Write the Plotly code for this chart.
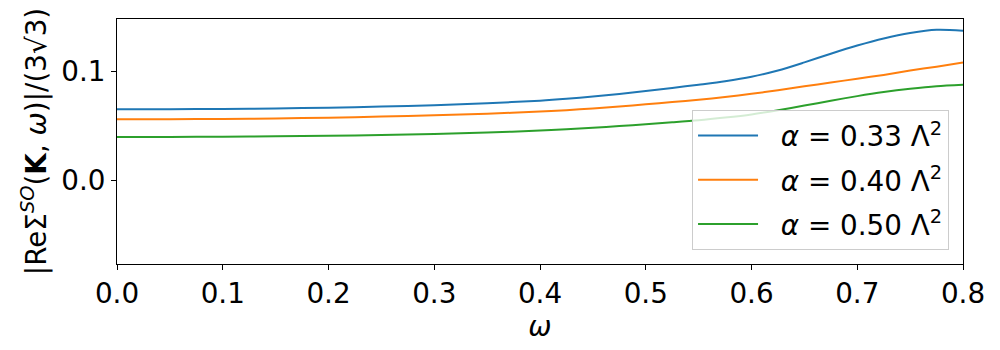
import plotly.graph_objects as go

omega = [0.0, 0.05, 0.1, 0.15, 0.2, 0.25, 0.3, 0.35, 0.4, 0.425, 0.45, 0.475, 0.5,
         0.525, 0.55, 0.575, 0.6, 0.625, 0.65, 0.675, 0.7, 0.725, 0.75, 0.775, 0.8]

alpha_033 = [0.0654, 0.0655, 0.0657, 0.0662, 0.0669, 0.0679, 0.0692, 0.0710, 0.0733,
             0.0750, 0.0771, 0.0795, 0.0822, 0.0850, 0.0880, 0.0912, 0.0953, 0.1010,
             0.1085, 0.1165, 0.1240, 0.1305, 0.1355, 0.1385, 0.1377]
alpha_040 = [0.0562, 0.0563, 0.0565, 0.0570, 0.0577, 0.0587, 0.0599, 0.0614, 0.0633,
             0.0646, 0.0662, 0.0680, 0.0700, 0.0720, 0.0742, 0.0767, 0.0796, 0.0829,
             0.0865, 0.0900, 0.0935, 0.0970, 0.1010, 0.1046, 0.1085]
alpha_050 = [0.0400, 0.0400, 0.0402, 0.0406, 0.0411, 0.0418, 0.0428, 0.0441, 0.0458,
             0.0470, 0.0484, 0.0500, 0.0517, 0.0534, 0.0553, 0.0578, 0.0607, 0.0645,
             0.0688, 0.0733, 0.0775, 0.0812, 0.0842, 0.0866, 0.0880]

series_names = ["\u00a0\u00a0<i>α</i> = 0.33 Λ<sup>2</sup>",
                "\u00a0\u00a0<i>α</i> = 0.40 Λ<sup>2</sup>",
                "\u00a0\u00a0<i>α</i> = 0.50 Λ<sup>2</sup>"]
series_values = [alpha_033, alpha_040, alpha_050]
colors = ["#1f77b4", "#ff7f0e", "#2ca02c"]

x_ticks = [0.0, 0.1, 0.2, 0.3, 0.4, 0.5, 0.6, 0.7, 0.8]
y_ticks = [0.0, 0.1]

FONT = "DejaVu Sans"
FS = 27.8

fig = go.Figure()
for i, (name, vals, c) in enumerate(zip(series_names, series_values, colors)):
    fig.add_trace(go.Scatter(
        x=omega, y=vals, mode="lines", name=name,
        line=dict(color=c, width=2, shape="spline", smoothing=0.8),
        legendgroup=f"g{i}",
    ))

# the page body has an 8px margin; size the figure so the plot lands where the reference has it
fig.update_layout(
    width=992, height=342,
    margin=dict(l=109, r=37, t=11, b=86),
    paper_bgcolor="white", plot_bgcolor="white",
    font=dict(family=FONT, size=FS, color="black"),
    showlegend=True,
    legend=dict(
        x=0.9835, y=0.057, xanchor="right", yanchor="bottom",
        bgcolor="rgba(255,255,255,0.8)", bordercolor="#cccccc", borderwidth=1,
        font=dict(family=FONT, size=FS, color="black"),
        itemwidth=60, tracegroupgap=5,
    ),
    xaxis=dict(
        range=[0.0, 0.8], tickvals=x_ticks, tickformat=".1f",
        showgrid=False, zeroline=False,
        showline=True, mirror=True, linecolor="black", linewidth=1,
        ticks="outside", ticklen=5, tickcolor="black", tickwidth=1,
        title=dict(text="<i>ω</i>", standoff=6, font=dict(size=FS)),
    ),
    yaxis=dict(
        range=[-0.0768, 0.1484], tickvals=y_ticks, tickformat=".1f",
        showgrid=False, zeroline=False,
        showline=True, mirror=True, linecolor="black", linewidth=1,
        ticks="outside", ticklen=5, tickcolor="black", tickwidth=1,
        title=dict(text="|ReΣ<sup><i>SO</i></sup>(<b>K</b>, <i>ω</i>)|/(3√3)",
                   standoff=6, font=dict(size=FS)),
    ),
)

fig.write_html("out.html")
